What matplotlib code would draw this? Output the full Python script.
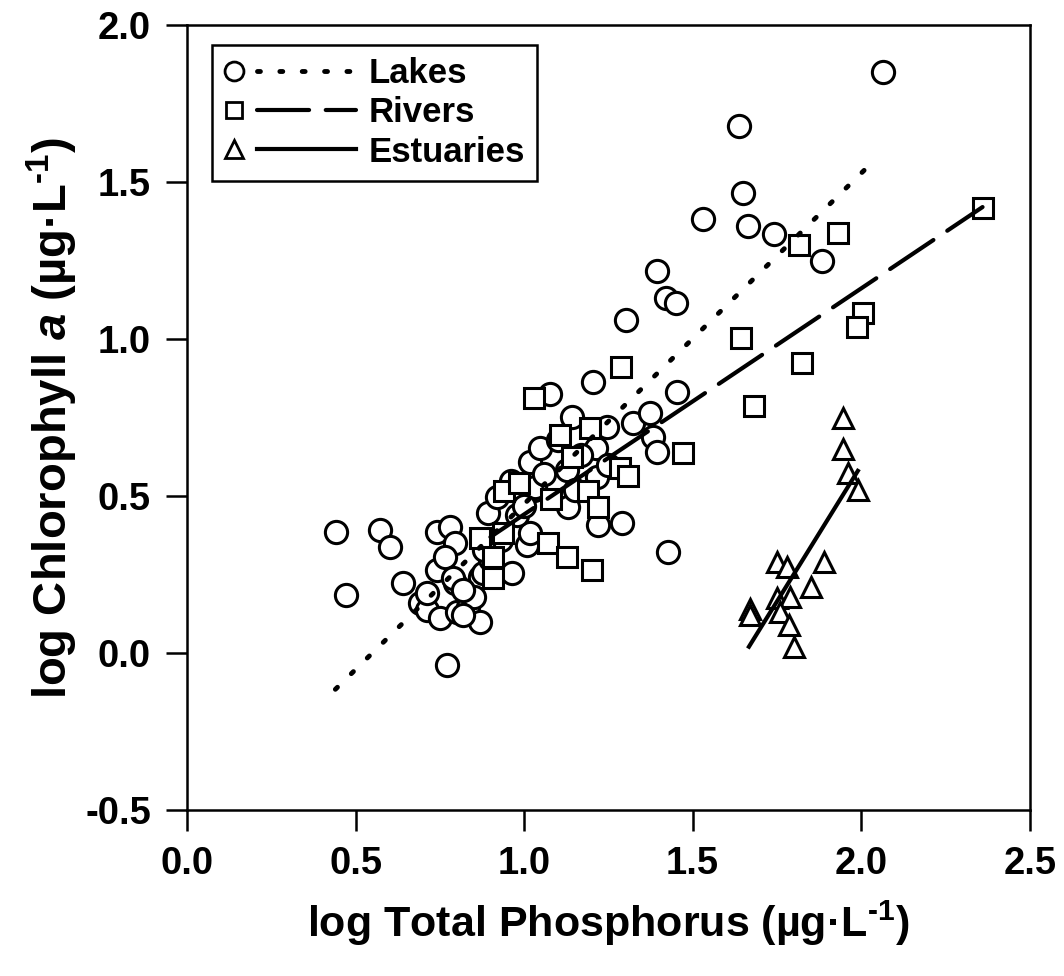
import matplotlib
matplotlib.use('Agg')
import matplotlib.pyplot as plt
from matplotlib.lines import Line2D
from matplotlib.legend_handler import HandlerBase
import numpy as np

# ---------------- data ----------------
lakes_x = [0.442, 0.472, 0.572, 0.602, 0.641, 0.691, 0.712, 0.712, 0.741, 0.750,
           0.741, 0.780, 0.795, 0.771, 0.795, 0.801, 0.833, 0.869, 0.869, 0.878,
           0.765, 0.789, 0.893, 0.919, 0.964, 1.008, 1.017, 1.029, 1.017, 1.047,
           1.032, 1.077, 1.130, 1.127, 1.142, 1.213, 1.216, 1.219, 1.246, 1.290,
           1.323, 1.373, 1.382, 1.394, 1.204, 1.302, 1.394, 1.421, 1.450, 1.453,
           1.426, 1.530, 1.637, 1.649, 1.664, 1.741, 1.883, 2.064,
           0.850, 0.820, 0.900, 0.930, 0.980, 1.060, 1.100, 1.170, 1.250, 0.960,
           0.880, 0.820, 1.000, 1.150]
lakes_y = [0.386, 0.185, 0.392, 0.338, 0.223, 0.159, 0.137, 0.191, 0.265, 0.112,
           0.386, 0.402, 0.351, -0.038, 0.223, 0.131, 0.147, 0.099, 0.242, 0.255,
           0.306, 0.239, 0.446, 0.497, 0.255, 0.344, 0.383, 0.520, 0.609, 0.654,
           0.529, 0.826, 0.466, 0.584, 0.753, 0.654, 0.561, 0.408, 0.721, 0.415,
           0.733, 0.765, 0.689, 0.641, 0.864, 1.062, 1.218, 1.132, 1.116, 0.832,
           0.322, 1.384, 1.680, 1.467, 1.362, 1.336, 1.250, 1.853,
           0.180, 0.200, 0.300, 0.360, 0.440, 0.570, 0.680, 0.630, 0.600, 0.550,
           0.330, 0.120, 0.470, 0.520]

rivers_x = [1.815, 1.931, 2.361, 1.287, 1.643, 2.005, 1.987, 1.824, 1.682, 1.471,
            1.029, 1.195, 1.106, 1.142, 1.284, 1.308, 1.189, 1.079, 1.219, 0.940,
            0.985, 0.869, 0.937, 1.071, 1.127, 1.201, 0.907, 0.907]
rivers_y = [1.301, 1.339, 1.419, 0.912, 1.004, 1.084, 1.040, 0.925, 0.788, 0.638,
            0.813, 0.717, 0.695, 0.625, 0.590, 0.564, 0.517, 0.491, 0.466, 0.517,
            0.542, 0.367, 0.383, 0.351, 0.306, 0.265, 0.306, 0.239]

estuaries_x = [1.946, 1.946, 1.960, 1.990, 1.750, 1.780, 1.890, 1.850, 1.750, 1.790,
               1.670, 1.670, 1.760, 1.785, 1.800]
estuaries_y = [0.750, 0.650, 0.575, 0.520, 0.290, 0.275, 0.290, 0.210, 0.175, 0.180,
               0.140, 0.120, 0.130, 0.090, 0.020]

series_labels = ['Lakes', 'Rivers', 'Estuaries']

# regression lines: (slope, intercept) and x-range of each fit
lakes_fit = (1.054, -0.579)
lakes_fit_range = (0.44, 2.02)
rivers_fit = (0.720, -0.278)
rivers_fit_range = (0.90, 2.36)
estuaries_fit = (1.734, -2.870)
estuaries_fit_range = (1.667, 1.99)

x_ticks = [0.0, 0.5, 1.0, 1.5, 2.0, 2.5]
y_ticks = [-0.5, 0.0, 0.5, 1.0, 1.5, 2.0]
x_label = r'log Total Phosphorus (µg·L$^{\text{-1}}$)'
y_label = r'log Chlorophyll $\mathit{a}$ (µg·L$^{\text{-1}}$)'

# ---------------- style ----------------
plt.rcParams.update({
    'font.family': ['Liberation Sans', 'DejaVu Sans'],
    'font.weight': 'bold',
    'axes.unicode_minus': False,
    'mathtext.fontset': 'custom',
    'mathtext.rm': 'Liberation Sans:bold',
    'mathtext.it': 'Liberation Sans:italic:bold',
    'mathtext.bf': 'Liberation Sans:bold',
})

fig = plt.figure(figsize=(10.64, 9.76), dpi=100)
ax = fig.add_axes([0.1758, 0.170, 0.792, 0.804])

mk_common = dict(linestyle='none', markerfacecolor='white', markeredgecolor='black',
                 markeredgewidth=2.2)
lk_m, = ax.plot(lakes_x, lakes_y, marker='o', markersize=16, zorder=2, **mk_common)
rv_m, = ax.plot(rivers_x, rivers_y, marker='s', markersize=14, zorder=3, **mk_common)
es_m, = ax.plot(estuaries_x, estuaries_y, marker='^', markersize=15, zorder=4, **mk_common)


def fit_line(fit, rng):
    xs = np.array(rng)
    return xs, fit[0] * xs + fit[1]


xs, ys = fit_line(lakes_fit, lakes_fit_range)
lk_l, = ax.plot(xs, ys, color='black', lw=3.5, linestyle=(0, (0.6, 4.0)),
                dash_capstyle='round', zorder=6)
xs, ys = fit_line(rivers_fit, rivers_fit_range)
rv_l, = ax.plot(xs, ys, color='black', lw=3.0, linestyle=(0, (12.5, 4.0)),
                dash_capstyle='round', zorder=6)
xs, ys = fit_line(estuaries_fit, estuaries_fit_range)
es_l, = ax.plot(xs, ys, color='black', lw=3.0, linestyle='-', zorder=6)

ax.set_xlim(0.0, 2.5)
ax.set_ylim(-0.5, 2.0)
ax.set_xticks(x_ticks)
ax.set_yticks(y_ticks)
ax.set_xticklabels([f'{v:.1f}' for v in x_ticks])
ax.set_yticklabels([f'{v:.1f}' for v in y_ticks])
ax.tick_params(direction='out', length=15, width=1.8, pad=11, labelsize=27.5)
for s in ax.spines.values():
    s.set_linewidth(1.8)

ax.set_xlabel(x_label, fontsize=31, fontweight='bold', labelpad=12)
ax.set_ylabel(y_label, fontsize=34, fontweight='bold', labelpad=4)


class MarkerThenLine(HandlerBase):
    def create_artists(self, legend, orig_handle, xdescent, ydescent, width, height,
                       fontsize, trans):
        mk, ln = orig_handle
        y = height / 2 - ydescent
        x0 = -xdescent
        m = Line2D([x0 + 0.07 * width], [y])
        m.update_from(mk)
        m.set_linestyle('none')
        m.set_markersize(mk.get_markersize() * 0.85)
        m.set_markeredgewidth(2.0)
        l = Line2D([x0 + 0.25 * width, x0 + width], [y, y])
        l.update_from(ln)
        l.set_marker('None')
        m.set_transform(trans)
        l.set_transform(trans)
        return [m, l]


leg = ax.legend([(lk_m, lk_l), (rv_m, rv_l), (es_m, es_l)], series_labels,
                handler_map={tuple: MarkerThenLine()},
                loc='upper left', bbox_to_anchor=(0.03, 0.975), borderaxespad=0,
                prop={'size': 25, 'weight': 'bold'}, handlelength=3.8,
                handletextpad=0.35, labelspacing=0.18, borderpad=0.35,
                fancybox=False, framealpha=1, edgecolor='black')
leg.get_frame().set_linewidth(1.8)

fig.savefig('out.png', dpi=100)
